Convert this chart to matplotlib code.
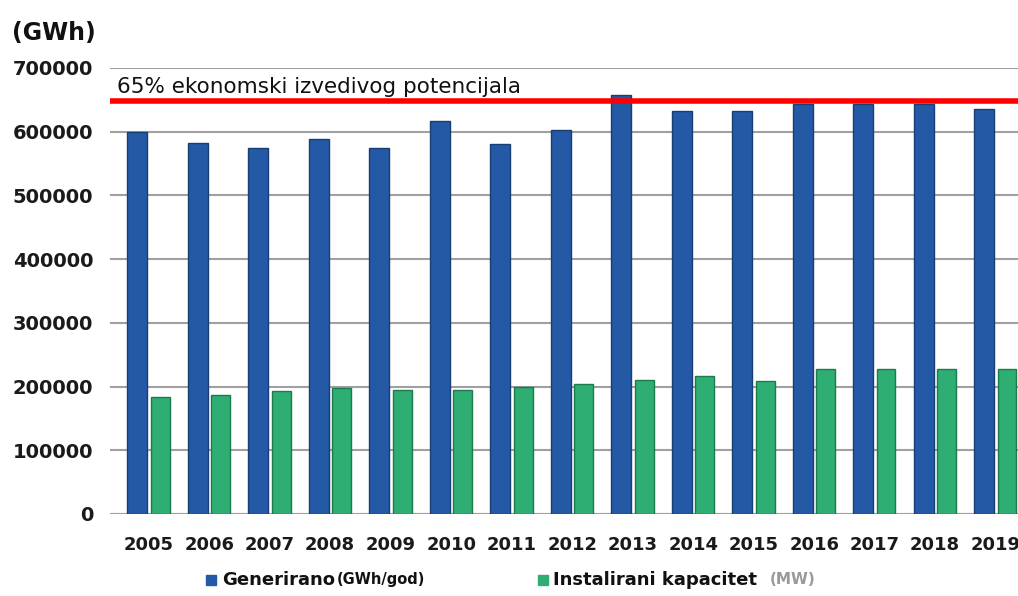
import matplotlib.pyplot as plt
import numpy as np

years = ['2005', '2006', '2007', '2008', '2009', '2010', '2011', '2012',
         '2013', '2014', '2015', '2016', '2017', '2018', '2019']
generirano = [600000, 582000, 575000, 589000, 575000, 617000, 581000, 603000,
              658000, 633000, 633000, 644000, 644000, 644000, 636000]
kapacitet = [183000, 186000, 193000, 197000, 194000, 194000, 200000, 204000,
             210000, 216000, 208000, 227000, 227000, 227000, 227000]
potencijal = 648000
potencijal_label = '65% ekonomski izvedivog potencijala'

blue = '#2359A5'
green = '#2EAE72'

fig = plt.figure(figsize=(10.18, 5.96), dpi=100)
ax = fig.add_axes([0.108, 0.1376, 0.892, 0.7484])

x = np.arange(len(years))
ax.bar(x - 0.19, generirano, width=0.33, color=blue, edgecolor='#183E73', linewidth=1, zorder=3)
ax.bar(x + 0.19, kapacitet, width=0.31, color=green, edgecolor='#1D7A4C', linewidth=1, zorder=3)

# red line for the potential
ax.axhline(potencijal, color='#FF0000', linewidth=4, zorder=4)
ax.text(-0.52, 661000, potencijal_label, fontsize=15.5, color='#111111', va='baseline', zorder=5)

ax.set_ylim(0, 700000)
ax.set_xlim(-0.64, 14.37)
ax.set_yticks(np.arange(0, 700001, 100000))
ax.yaxis.grid(True, color='#A0A0A0', linewidth=1.5, zorder=0)
ax.axhline(0, color='#DDDDDD', linewidth=1.5, zorder=1)
ax.set_xticks(x)
ax.set_xticklabels(years)
for s in ax.spines.values():
    s.set_visible(False)
ax.tick_params(axis='y', length=0, pad=12, labelsize=14)
ax.tick_params(axis='x', length=0, pad=16, labelsize=13)
for lab in ax.get_xticklabels() + ax.get_yticklabels():
    lab.set_fontweight('bold')
    lab.set_color('#1A1A1A')

fig.text(0.012, 0.945, '(GWh)', fontsize=17, fontweight='bold', color='#111111', va='center')

# legend drawn by hand
ly = 0.027
fig.patches.append(plt.Rectangle((0.202, ly - 0.009), 0.010, 0.018, color=blue, transform=fig.transFigure))
t1 = fig.text(0.218, ly, 'Generirano', fontsize=13, fontweight='bold', color='#111111', va='center')
fig.add_artist(plt.Annotation('(GWh/god)', xy=(1, 0.5), xycoords=t1, xytext=(1, 0),
                              textcoords='offset points', fontsize=10.5, fontweight='bold',
                              color='#111111', va='center'))
fig.patches.append(plt.Rectangle((0.528, ly - 0.009), 0.010, 0.018, color=green, transform=fig.transFigure))
t2 = fig.text(0.543, ly, 'Instalirani kapacitet', fontsize=13, fontweight='bold', color='#111111', va='center')
fig.add_artist(plt.Annotation('(MW)', xy=(1, 0.5), xycoords=t2, xytext=(9, 0),
                              textcoords='offset points', fontsize=11, fontweight='bold',
                              color='#999999', va='center'))

fig.savefig('out.png', dpi=100)
